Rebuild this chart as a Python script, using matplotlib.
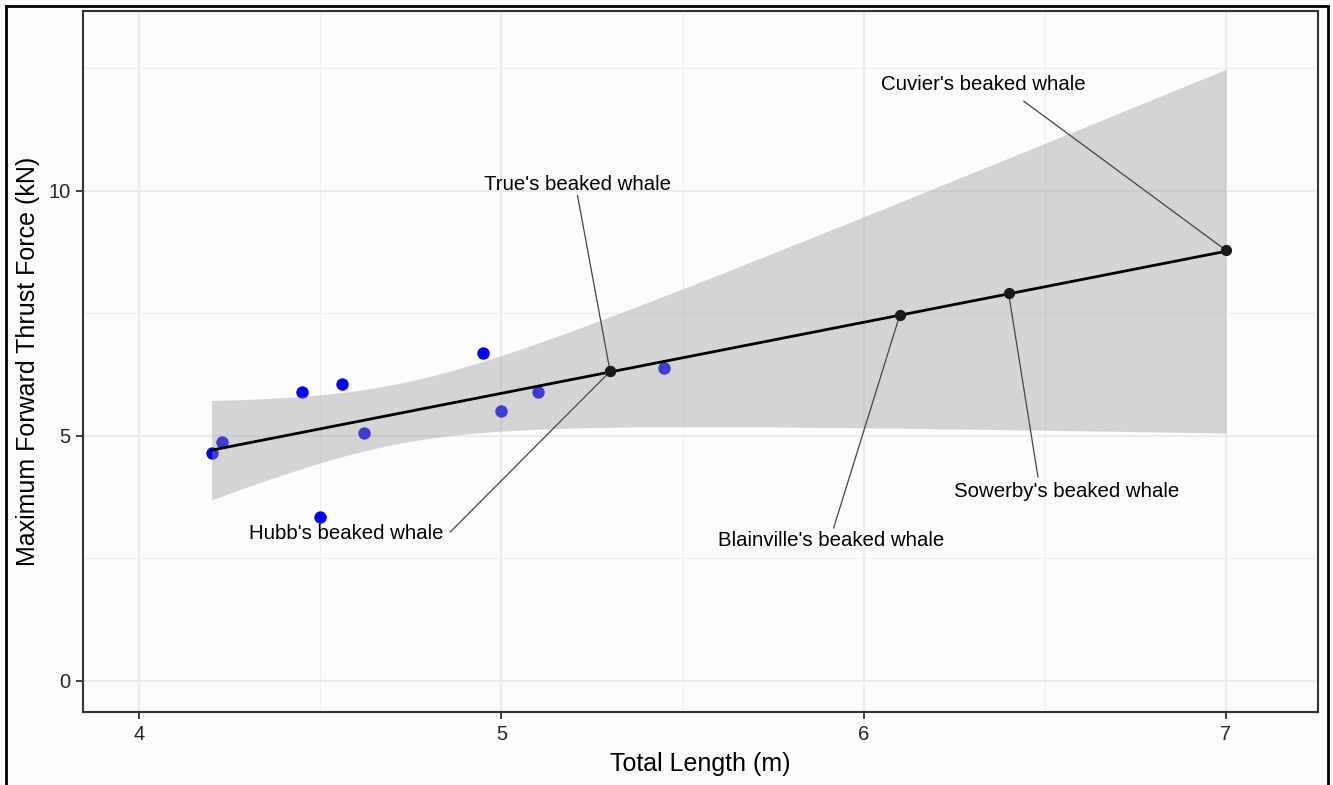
import numpy as np
import matplotlib
matplotlib.use("Agg")
import matplotlib.pyplot as plt
from matplotlib.patches import Rectangle

plt.rcParams['font.family'] = ['Liberation Sans', 'DejaVu Sans']

# measured whales (blue)
length = [4.2, 4.23, 4.45, 4.56, 4.5, 4.62, 4.95, 5.0, 5.1, 5.45]
thrust = [4.65, 4.88, 5.9, 6.06, 3.35, 5.06, 6.69, 5.51, 5.9, 6.39]

# predicted species (black, on the fit line)
species = ["True's beaked whale", "Hubb's beaked whale", "Blainville's beaked whale",
           "Sowerby's beaked whale", "Cuvier's beaked whale"]
sp_length = [5.3, 5.3, 6.1, 6.4, 7.0]
sp_thrust = [6.31, 6.31, 7.47, 7.90, 8.78]
# label centres
lab_x = [5.21, 4.572, 5.909, 6.561, 6.331]
lab_y = [10.12, 3.0, 2.86, 3.86, 12.16]
# where each repel segment leaves its label
seg_x = [5.21, 4.859, 5.917, 6.481, 6.442]
seg_y = [9.90, 3.04, 3.12, 4.16, 11.82]

# lm fit with 95% band, like geom_smooth(method="lm", fullrange=TRUE)
x = np.array(length)
y = np.array(thrust)
b, a = np.polyfit(x, y, 1)
n = len(x)
s = np.sqrt(np.sum((y - (a + b * x)) ** 2) / (n - 2))
sxx = np.sum((x - x.mean()) ** 2)
t = 2.306  # t(0.975, df=8)
xs = np.linspace(4.2, 7.0, 200)
fit = a + b * xs
se = s * np.sqrt(1 / n + (xs - x.mean()) ** 2 / sxx)

fig = plt.figure(figsize=(13.33, 7.85), dpi=100)
fig.patch.set_facecolor('#FCFCFC')
ax = fig.add_axes([83 / 1333, 1 - 712 / 785, (1318 - 83) / 1333, (712 - 11) / 785])
ax.set_facecolor('#FCFCFC')

ax.scatter(length, thrust, s=80, color='#0000FF', zorder=3, linewidths=0)
ax.fill_between(xs, fit - t * se, fit + t * se, color='#999999', alpha=0.4,
                linewidth=0, zorder=4)
ax.plot(xs, fit, color='black', lw=2, zorder=5)

for name, px, py, lx, ly, sx, sy in zip(species, sp_length, sp_thrust,
                                         lab_x, lab_y, seg_x, seg_y):
    ax.plot([sx, px], [sy, py], color='#444444', lw=0.9, zorder=6)
    ax.text(lx, ly, name, ha='center', va='center', fontsize=14.7,
            color='black', zorder=7)
ax.scatter(sp_length, sp_thrust, s=65, color='#1A1A1A', zorder=6, linewidths=0)

ax.set_xlim(3.845, 7.254)
ax.set_ylim(-0.633, 13.66)
ax.set_xticks([4, 5, 6, 7])
ax.set_yticks([0, 5, 10])
ax.set_xticks([4.5, 5.5, 6.5], minor=True)
ax.set_yticks([2.5, 7.5, 12.5], minor=True)
ax.grid(which='major', color='#EBEBEB', lw=1.6, zorder=0)
ax.grid(which='minor', color='#EFEFEF', lw=0.9, zorder=0)
ax.set_axisbelow(True)
ax.tick_params(which='major', length=5, width=1.3, color='#333333',
               labelsize=14.5, labelcolor='#262626', pad=4)
ax.tick_params(which='minor', length=0)
for sp in ax.spines.values():
    sp.set_color('#333333')
    sp.set_linewidth(1.5)

ax.set_xlabel('Total Length (m)', fontsize=18, labelpad=6)
ax.set_ylabel('Maximum Forward Thrust Force (kN)', fontsize=18, labelpad=6)

# outer frame
fig.add_artist(Rectangle((6 / 1333, -0.02), (1328 - 6) / 1333, 1.02 - 6 / 785,
                         transform=fig.transFigure, fill=False,
                         edgecolor='black', lw=2))

fig.savefig('out.png', dpi=100, facecolor=fig.get_facecolor())
